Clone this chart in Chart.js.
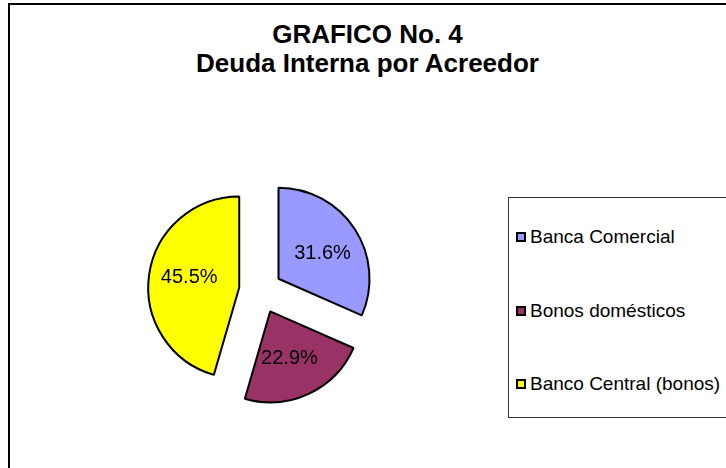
<!DOCTYPE html>
<html>
<head>
  <meta charset="UTF-8" />
  <title>Deuda Interna por Acreedor</title>
  <script src="https://cdn.jsdelivr.net/npm/chart.js"></script>
  <style>
    body {
      margin: 0;
      background-color: #fff;
      font-family: "Liberation Sans", Arial, sans-serif;
      color: #000;
      width: 726px;
      height: 468px;
      overflow: hidden;
      position: relative;
    }

    .frame {
      position: absolute;
      left: 8px;
      top: 3px;
      width: 800px;
      height: 600px;
      border-left: 2px solid #000;
      border-top: 2px solid #000;
    }

    .title {
      position: absolute;
      left: 0;
      top: 20px;
      width: 735px;
      text-align: center;
      font-weight: bold;
      font-size: 26px;
      line-height: 29px;
    }

    #pieWrap {
      position: absolute;
      left: 140px;
      top: 170px;
      width: 241px;
      height: 241px;
    }

    .legend {
      position: absolute;
      left: 508px;
      top: 197px;
      width: 260px;
      height: 219px;
      border: 1px solid #333;
    }

    .legend-item {
      position: absolute;
      left: 7px;
      font-size: 19px;
      line-height: 19px;
      white-space: nowrap;
    }

    .legend-box {
      display: inline-block;
      width: 6px;
      height: 6px;
      border: 2px solid #000;
      margin-right: 4px;
      vertical-align: 1px;
    }
  </style>
</head>
<body>

  <div class="frame"></div>
  <div class="title">GRAFICO No. 4<br>Deuda Interna por Acreedor</div>

  <div id="pieWrap">
    <canvas id="pieChart" width="241" height="241"></canvas>
  </div>

  <div class="legend" id="legend"></div>

  <script>
    const labels = ['Banca Comercial', 'Bonos domésticos', 'Banco Central (bonos)'];
    const values = [31.6, 22.9, 45.5];
    const colors = ['#9999ff', '#993366', '#ffff00'];

    // how far each slice is pulled out from the centre, px
    const explode = [21.5, 23, 21.5];

    // draw each arc shifted along its bisector (chart.js offset also grows the radius)
    const explodedPie = {
      id: 'explodedPie',
      beforeDatasetDraw(chart, args) {
        const ctx = chart.ctx;
        const meta = args.meta;
        meta.data.forEach((arc, i) => {
          const mid = (arc.startAngle + arc.endAngle) / 2;
          ctx.save();
          ctx.translate(Math.cos(mid) * explode[i], Math.sin(mid) * explode[i]);
          arc.draw(ctx);
          ctx.restore();
        });
        return false;
      },
      afterDatasetsDraw(chart) {
        const ctx = chart.ctx;
        const meta = chart.getDatasetMeta(0);
        ctx.save();
        ctx.font = '20px "Liberation Sans", Arial, sans-serif';
        ctx.fillStyle = '#000';
        ctx.textAlign = 'center';
        ctx.textBaseline = 'middle';
        meta.data.forEach((arc, i) => {
          const mid = (arc.startAngle + arc.endAngle) / 2;
          // slice apex after the pull-out, then label a bit past half the radius
          const ax = arc.x + Math.cos(mid) * explode[i];
          const ay = arc.y + Math.sin(mid) * explode[i];
          const a = mid + 0.05;
          const r = arc.outerRadius * 0.56;
          ctx.fillText(values[i].toFixed(1) + '%', ax + Math.cos(a) * r, ay + Math.sin(a) * r);
        });
        ctx.restore();
      }
    };

    new Chart(document.getElementById('pieChart'), {
      type: 'pie',
      data: {
        labels: labels,
        datasets: [{
          data: values,
          backgroundColor: colors,
          borderColor: '#000',
          borderWidth: 2,
          radius: 91
        }]
      },
      options: {
        responsive: false,
        animation: false,
        events: [],
        layout: { padding: 0 },
        plugins: {
          legend: { display: false },
          tooltip: { enabled: false }
        }
      },
      plugins: [explodedPie]
    });

    const legendEl = document.getElementById('legend');
    labels.forEach((name, i) => {
      const item = document.createElement('div');
      item.className = 'legend-item';
      item.style.top = (29 + i * 73.5) + 'px';
      item.innerHTML = `<span class="legend-box" style="background:${colors[i]}"></span>${name}`;
      legendEl.appendChild(item);
    });
  </script>
</body>
</html>
